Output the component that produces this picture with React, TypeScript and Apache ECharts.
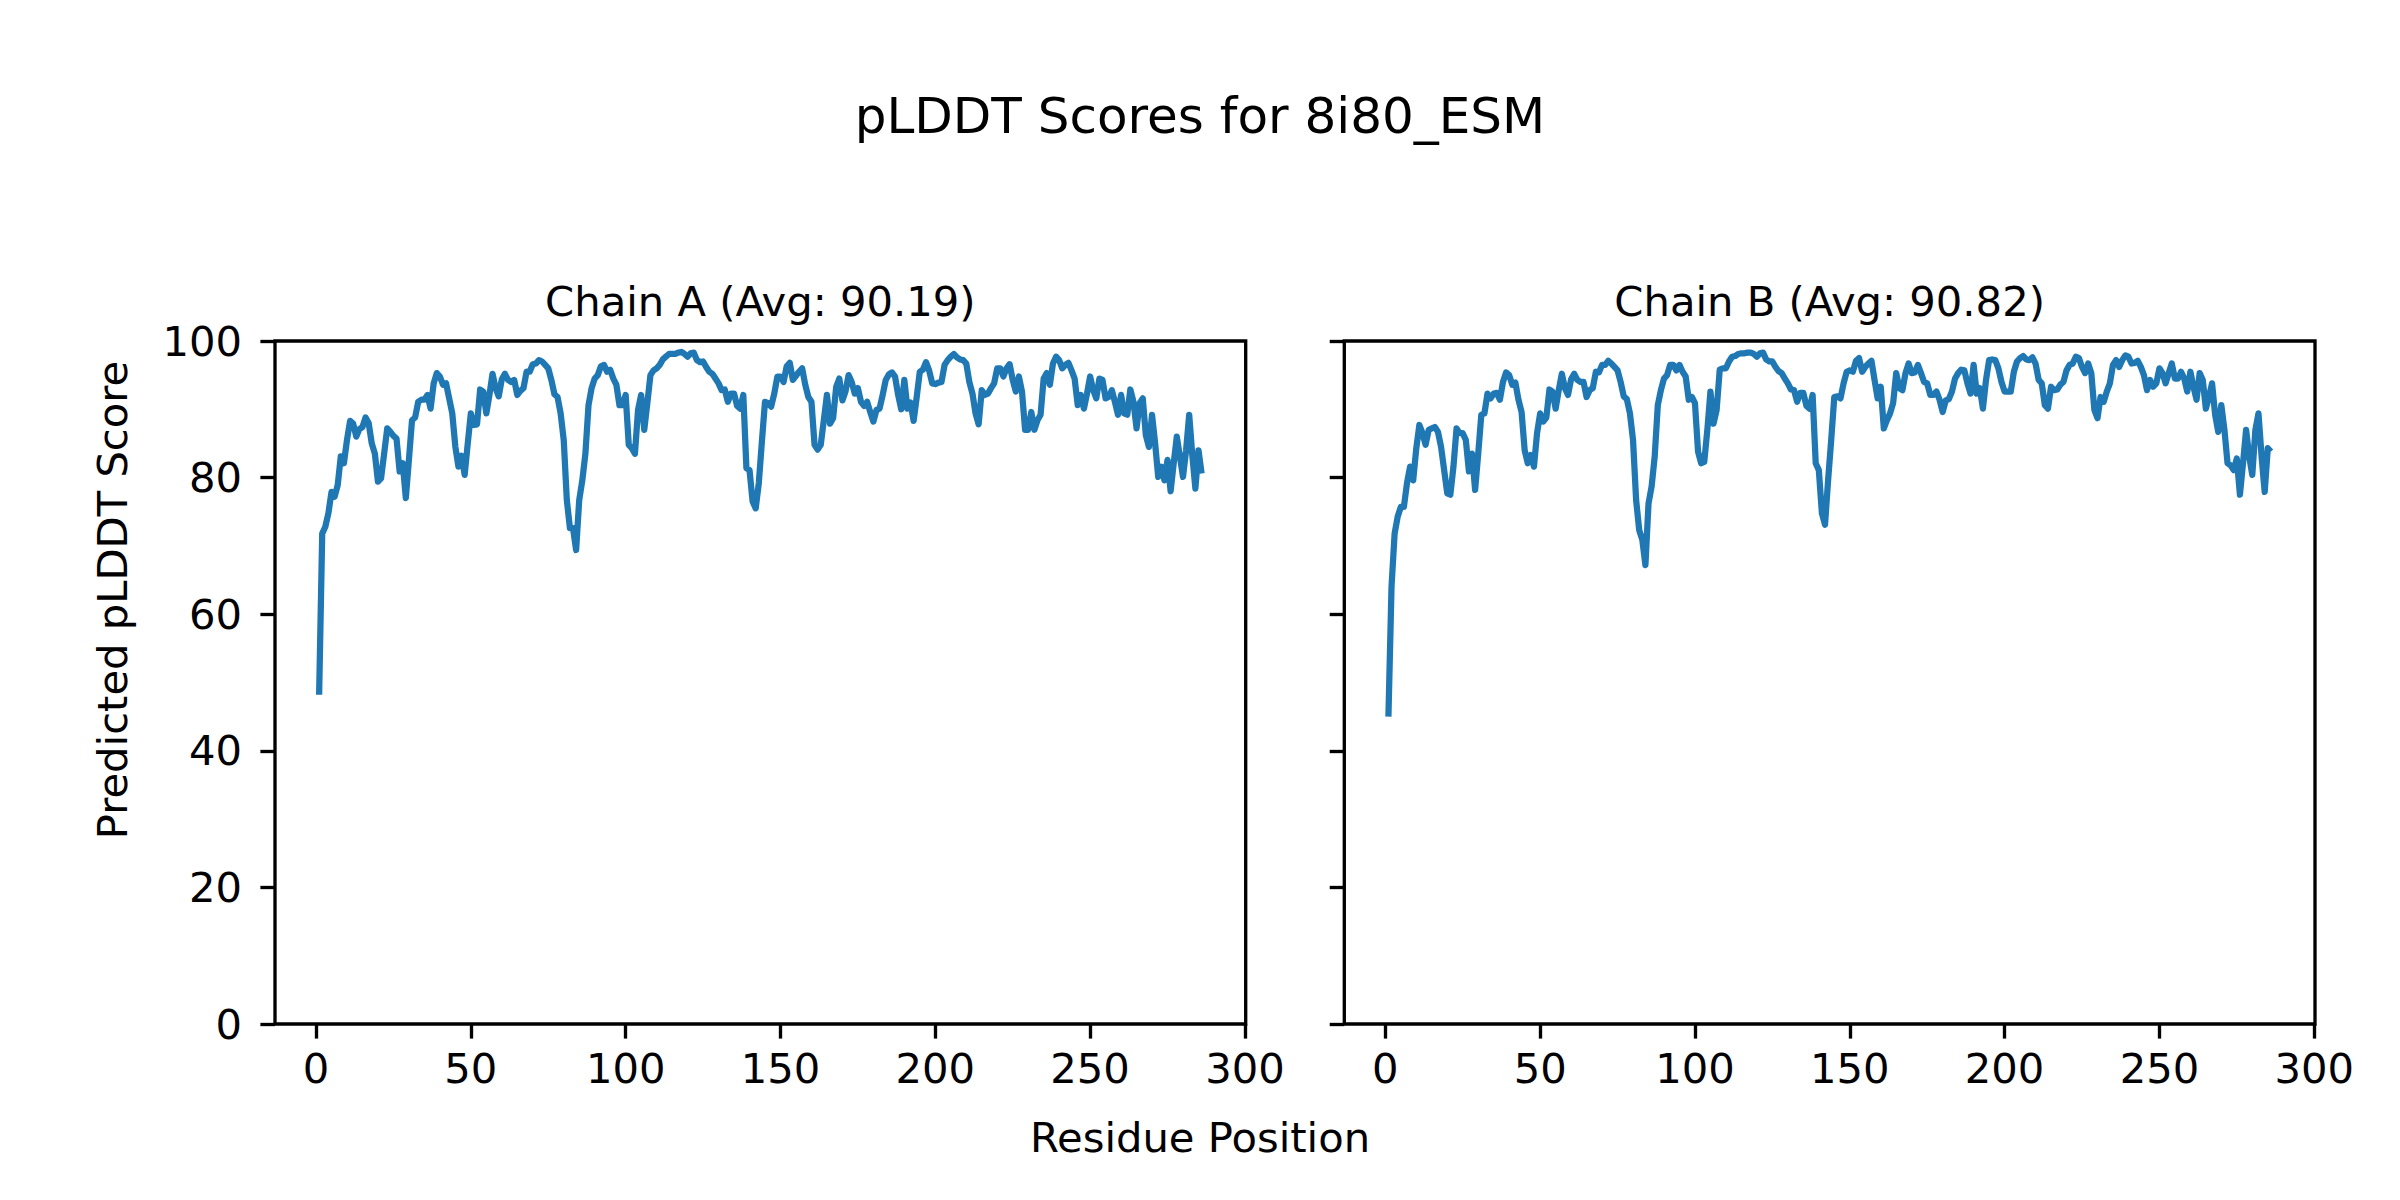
import React, { useEffect, useRef } from "react";
import * as echarts from "echarts";

// ---- Data ----
const chainAScores: number[] = [
  48.2, 71.8, 72.8, 74.8, 77.9, 77.2, 78.9, 83.1, 82.1, 85.5,
  88.3, 87.9, 86.0, 87.1, 87.4, 88.8, 88.0, 85.0, 83.5, 79.4,
  79.9, 83.5, 87.2, 86.7, 86.1, 85.7, 80.9, 82.1, 77.0, 82.6,
  88.4, 88.8, 91.1, 91.4, 91.4, 92.1, 90.1, 93.8, 95.3, 94.8,
  93.6, 93.8, 91.6, 89.4, 84.5, 81.6, 83.2, 80.4, 85.0, 89.4,
  87.7, 87.8, 92.9, 92.6, 89.4, 92.1, 95.2, 93.1, 91.9, 94.4,
  95.2, 94.3, 94.0, 94.3, 92.1, 92.7, 93.1, 95.5, 95.5, 96.6,
  96.7, 97.2, 97.0, 96.5, 96.0,
  94.3, 92.2, 91.8, 89.4, 85.5, 76.7, 72.6, 72.6, 69.4, 76.7,
  79.6, 83.5, 90.6, 93.1, 94.5, 95.0, 96.3, 96.5, 95.5, 95.8,
  94.5, 93.6, 90.6, 90.6, 92.1, 84.8, 84.3, 83.5, 89.9, 92.1,
  87.0, 90.9, 95.0, 95.7, 96.0, 96.5, 97.3, 97.7, 98.1, 98.1,
  98.1, 98.3, 98.4, 98.1, 97.7, 98.2, 98.3, 97.2, 96.9, 97.0,
  96.2, 95.5, 95.2, 94.5, 93.8, 92.8, 92.9, 91.1, 92.3, 92.3,
  90.5, 90.1, 92.1, 81.4, 81.1, 76.5, 75.5, 79.2, 85.3, 91.1,
  90.9, 90.4, 92.3, 94.8, 94.8,
  94.0, 96.3, 96.8, 94.3, 94.9, 95.5, 96.0, 93.6, 91.8, 91.1,
  84.8, 84.1, 84.8, 88.4, 92.1, 87.9, 88.7, 93.3, 94.5, 91.3,
  92.6, 95.0, 94.0, 92.3, 93.1, 91.1, 90.5, 91.1, 89.6, 88.2,
  89.9, 90.1, 92.1, 94.3, 95.1, 95.4, 94.8, 92.1, 90.0, 94.3,
  90.1, 91.0, 88.3, 91.8, 95.5, 95.8, 96.9, 95.7, 93.8, 93.7,
  93.9, 94.0, 96.5, 97.2, 97.7, 98.1, 97.6, 97.3, 97.2, 96.7,
  94.0, 92.3, 89.4, 87.8, 92.8, 92.1, 92.3, 93.1, 93.8, 96.0,
  96.0, 94.8, 96.0, 96.6, 94.3, 92.6, 94.8, 92.6, 87.0, 87.0,
  89.6, 87.0, 88.4, 89.2, 94.5, 95.3, 93.6, 96.7, 97.7, 97.2,
  96.0, 96.5, 96.8, 95.7, 94.5, 90.6, 92.1, 90.1, 92.3, 94.8,
  92.8, 91.6, 94.5, 94.3, 91.6, 91.8, 92.8, 91.1, 89.2, 92.1,
  89.4, 89.2, 92.9, 91.1, 87.2, 90.9, 91.6, 86.2, 84.5, 89.2,
  85.0, 80.1, 81.6, 79.6, 82.6, 78.0, 82.1, 86.0, 83.1, 80.1,
  84.0, 89.2, 83.3, 78.4, 84.0, 80.6,
];

const chainBScores: number[] = [
  45.0, 64.0, 71.8, 74.3, 75.7, 75.7, 79.2, 81.6, 79.6, 84.3,
  87.7, 86.5, 84.8, 87.0, 87.2, 87.4, 86.7, 84.5, 81.1, 77.7,
  77.5, 81.6, 87.2, 86.5, 86.5, 85.5, 80.9, 83.5, 78.2, 83.5,
  89.2, 89.4, 92.3, 91.6, 92.3, 92.4, 91.4, 94.0, 95.4, 95.0,
  93.6, 93.9, 91.4, 89.6, 84.0, 82.1, 83.3, 81.6, 86.5, 89.4,
  88.2, 88.8, 92.9, 92.6, 90.1, 92.8, 95.2, 93.1, 92.1, 94.4,
  95.2, 94.3, 94.0, 94.0, 91.8, 92.8, 93.1, 95.5, 95.4, 96.5,
  96.5, 97.1, 96.7, 96.2, 95.7,
  94.0, 91.9, 91.5, 89.4, 85.5, 76.7, 72.3, 70.9, 67.2, 76.2,
  78.7, 83.1, 90.6, 92.8, 94.5, 95.0, 96.5, 96.5, 95.7, 96.5,
  95.5, 94.8, 91.4, 91.8, 90.9, 83.8, 82.1, 82.3, 87.0, 92.6,
  87.9, 89.9, 95.8, 96.0, 96.0, 97.0, 97.7, 97.8, 98.1, 98.2,
  98.2, 98.3, 98.3, 98.1, 97.7, 98.2, 98.3, 97.3, 97.0, 97.0,
  96.2, 95.6, 95.3, 94.5, 93.8, 92.9, 92.8, 91.1, 92.4, 92.4,
  90.5, 90.1, 92.1, 82.1, 81.1, 74.8, 73.1, 79.6, 85.5, 91.8,
  91.9, 91.6, 93.8, 95.5, 95.7,
  95.5, 97.1, 97.5, 95.5, 96.2, 96.7, 97.1, 94.3, 91.6, 93.3,
  87.2, 88.4, 89.4, 90.9, 95.3, 93.1, 92.8, 95.3, 96.7, 95.3,
  95.4, 96.5, 95.3, 94.0, 93.8, 92.1, 92.1, 92.6, 91.4, 89.6,
  91.3, 91.5, 92.6, 94.5, 95.3, 95.8, 95.7, 93.8, 92.3, 96.5,
  92.3, 93.1, 90.1, 94.3, 97.2, 97.3, 97.2, 96.0, 94.0, 92.6,
  92.6, 92.6, 95.5, 97.0, 97.5, 97.8, 97.3, 97.2, 97.6, 96.7,
  94.3, 93.8, 90.6, 90.1, 93.3, 92.8, 92.9, 93.6, 94.0, 95.7,
  96.5, 96.7, 97.7, 97.5, 96.2, 95.3, 96.7, 95.3, 89.9, 88.7,
  91.8, 91.1, 92.6, 93.8, 96.5, 97.2, 96.2, 97.2, 97.9, 97.7,
  96.7, 96.8, 97.1, 96.2, 95.0, 92.8, 94.3, 93.3, 93.8, 96.0,
  95.3, 93.8, 95.3, 96.7, 94.5, 94.5, 95.5, 94.5, 92.6, 95.5,
  93.3, 91.4, 95.3, 94.3, 90.1, 91.8, 93.8, 89.2, 86.7, 90.6,
  87.0, 82.1, 81.8, 81.1, 82.8, 77.5, 82.1, 87.0, 83.1, 80.4,
  87.0, 89.4, 83.1, 77.9, 84.3, 83.8,
];

const xTickValues = [0, 50, 100, 150, 200, 250, 300];
const yTickValues = [0, 20, 40, 60, 80, 100];
const figureTitle = "pLDDT Scores for 8i80_ESM";
const chainTitles = ["Chain A (Avg: 90.19)", "Chain B (Avg: 90.82)"];
const xAxisTitle = "Residue Position";
const yAxisTitle = "Predicted pLDDT Score";

// ---- Styling / layout ----
const FONT = "'DejaVu Sans', 'Liberation Sans', sans-serif";
const LINE_COLOR = "#1f77b4";
const TICK_FONT = 41.7;
const SPINE_W = 3.33;
const X_MIN = -13.25;
const X_MAX = 300.25;

const grids = [
  { left: 275, top: 341, width: 970.7, height: 683 },
  { left: 1344.3, top: 341, width: 970.7, height: 683 },
];

function buildOption(): echarts.EChartsOption {
  const series = [chainAScores, chainBScores];
  return {
    animation: false,
    backgroundColor: "#ffffff",
    grid: grids.map((g) => ({
      ...g,
      show: true,
      borderColor: "#000",
      borderWidth: SPINE_W,
      backgroundColor: "transparent",
      containLabel: false,
    })),
    xAxis: grids.map((_, i) => ({
      type: "value",
      gridIndex: i,
      min: X_MIN,
      max: X_MAX,
      axisLine: { show: false, onZero: false },
      axisTick: {
        show: true,
        inside: false,
        length: 14.6,
        lineStyle: { color: "#000", width: SPINE_W },
        customValues: xTickValues,
      },
      axisLabel: {
        show: true,
        customValues: xTickValues,
        margin: 23,
        fontSize: TICK_FONT,
        fontFamily: FONT,
        color: "#000",
      },
      splitLine: { show: false },
    })),
    yAxis: grids.map((_, i) => ({
      type: "value",
      gridIndex: i,
      min: yTickValues[0],
      max: yTickValues[yTickValues.length - 1],
      interval: 20,
      axisLine: { show: false, onZero: false },
      axisTick: {
        show: true,
        inside: false,
        length: 14.6,
        lineStyle: { color: "#000", width: SPINE_W },
      },
      axisLabel: {
        show: i === 0,
        margin: 33,
        fontSize: TICK_FONT,
        fontFamily: FONT,
        color: "#000",
      },
      splitLine: { show: false },
    })),
    series: series.map((scores, i) => ({
      type: "line",
      name: chainTitles[i],
      xAxisIndex: i,
      yAxisIndex: i,
      data: scores.map((v, k) => [k + 1, v]),
      showSymbol: false,
      symbol: "none",
      silent: true,
      clip: true,
      itemStyle: { color: LINE_COLOR },
      lineStyle: { color: LINE_COLOR, width: 6.25, join: "round", cap: "butt" },
    })),
    graphic: [
      {
        type: "text",
        x: 1200,
        y: 116,
        style: {
          text: figureTitle,
          fontSize: 50,
          fontFamily: FONT,
          fill: "#000",
          textAlign: "center",
          textVerticalAlign: "middle",
        },
      },
      ...grids.map((g, i) => ({
        type: "text",
        x: g.left + g.width / 2,
        y: 301,
        style: {
          text: chainTitles[i],
          fontSize: TICK_FONT,
          fontFamily: FONT,
          fill: "#000",
          textAlign: "center",
          textVerticalAlign: "middle",
        },
      })),
      {
        type: "text",
        x: 1200,
        y: 1137,
        style: {
          text: xAxisTitle,
          fontSize: TICK_FONT,
          fontFamily: FONT,
          fill: "#000",
          textAlign: "center",
          textVerticalAlign: "middle",
        },
      },
      {
        type: "text",
        x: 112,
        y: 600,
        rotation: Math.PI / 2,
        style: {
          text: yAxisTitle,
          fontSize: TICK_FONT,
          fontFamily: FONT,
          fill: "#000",
          textAlign: "center",
          textVerticalAlign: "middle",
        },
      },
    ],
  } as echarts.EChartsOption;
}

export default function App() {
  const ref = useRef<HTMLDivElement>(null);
  useEffect(() => {
    if (!ref.current) return;
    const chart = echarts.init(ref.current, undefined, { renderer: "svg" });
    chart.setOption(buildOption());
    return () => chart.dispose();
  }, []);
  return (
    <div
      ref={ref}
      style={{
        position: "fixed",
        left: 0,
        top: 0,
        width: 2400,
        height: 1200,
        background: "#fff",
      }}
    />
  );
}
